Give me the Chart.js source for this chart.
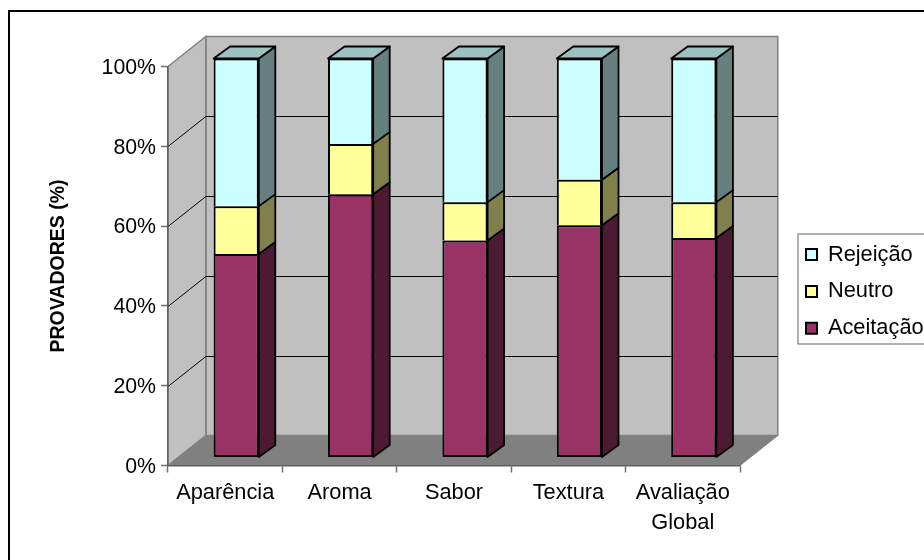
<!DOCTYPE html>
<html>
<head>
<meta charset="utf-8">
<script src="https://cdn.jsdelivr.net/npm/chart.js@4"></script>
<style>
  html, body { margin: 0; padding: 0; background: #fff; }
  canvas { display: block; }
</style>
</head>
<body>
<canvas id="chart" width="924" height="560"></canvas>
<script>
const categories = ['Aparência', 'Aroma', 'Sabor', 'Textura', ['Avaliação', 'Global']];
const aceitacao = [51, 66, 54.4, 58.2, 55];
const neutro = [12, 12.6, 9.6, 11.4, 9];
const rejeicao = [37, 21.4, 36, 30.4, 36];
const yTicks = [0, 20, 40, 60, 80, 100];

// depth of the fake 3d box and of the bars inside it
const wall = { dx: 37.8, dy: -30 };
const barShift = { dx: 11, dy: -8 };
const barDepth = { dx: 16.5, dy: -12 };
const faceColors = [
  { side: '#4d1a33', top: '#732650' },
  { side: '#80804d', top: '#bfbf73' },
  { side: '#668080', top: '#9cc2c0' }
];

function poly(ctx, pts, fill, stroke, lw) {
  ctx.beginPath();
  pts.forEach((p, i) => i ? ctx.lineTo(p[0], p[1]) : ctx.moveTo(p[0], p[1]));
  ctx.closePath();
  if (fill) { ctx.fillStyle = fill; ctx.fill(); }
  if (stroke) { ctx.strokeStyle = stroke; ctx.lineWidth = lw; ctx.stroke(); }
}

const box3d = {
  id: 'box3d',
  afterLayout(chart) {
    const lg = chart.legend;
    lg.left = 791;
    lg.right = 930;
    lg.top = 228.7;
    lg.bottom = 560;
  },
  beforeDraw(chart) {
    const ctx = chart.ctx;
    const { left, right, top, bottom } = chart.chartArea;
    const y = chart.scales.y;
    const dx = wall.dx, dy = wall.dy;
    ctx.save();
    // outer frame, only left and top are inside the picture
    ctx.strokeStyle = '#000';
    ctx.lineWidth = 2;
    ctx.strokeRect(9, 11, 930, 570);
    // walls and floor
    poly(ctx, [[left + dx, top + dy], [right + dx, top + dy], [right + dx, bottom + dy], [left + dx, bottom + dy]], '#c0c0c0', '#808080', 1.5);
    poly(ctx, [[left, top], [left + dx, top + dy], [left + dx, bottom + dy], [left, bottom]], '#c0c0c0', '#808080', 1.5);
    poly(ctx, [[left, bottom], [right, bottom], [right + dx, bottom + dy], [left + dx, bottom + dy]], '#808080', '#808080', 1);
    // gridlines on back and side wall
    ctx.strokeStyle = '#000';
    ctx.lineWidth = 1;
    yTicks.slice(1, -1).forEach(v => {
      const py = Math.round(y.getPixelForValue(v)) + 0.5;
      ctx.beginPath();
      ctx.moveTo(left, py);
      ctx.lineTo(left + dx, py + dy);
      ctx.lineTo(right + dx, py + dy);
      ctx.stroke();
    });
    // legend box
    ctx.fillStyle = '#fff';
    ctx.strokeStyle = '#666';
    ctx.lineWidth = 1;
    ctx.fillRect(798, 234, 140, 110);
    ctx.strokeRect(798, 234, 140, 110);
    ctx.restore();
  },
  beforeDatasetsDraw(chart) {
    chart.ctx.save();
    chart.ctx.translate(barShift.dx, barShift.dy);
  },
  afterDatasetsDraw(chart) {
    const ctx = chart.ctx;
    const dx = barDepth.dx, dy = barDepth.dy;
    const last = chart.data.datasets.length - 1;
    ctx.lineJoin = 'round';
    chart.data.datasets.forEach((ds, i) => {
      chart.getDatasetMeta(i).data.forEach(bar => {
        const { x, y, base, width } = bar.getProps(['x', 'y', 'base', 'width'], true);
        const l = x - width / 2, r = x + width / 2;
        poly(ctx, [[r, y], [r + dx, y + dy], [r + dx, base + dy], [r, base]], faceColors[i].side, '#000', 1.8);
        if (i === last) {
          poly(ctx, [[l, y], [l + dx, y + dy], [r + dx, y + dy], [r, y]], faceColors[i].top, '#000', 1.8);
        }
      });
    });
    ctx.restore();
  }
};

const fontFamily = '"Liberation Sans", Arial, sans-serif';
const font = { family: fontFamily, size: 21.8 };

new Chart(document.getElementById('chart'), {
  type: 'bar',
  plugins: [box3d],
  data: {
    labels: categories,
    datasets: [
      { label: 'Aceitação', data: aceitacao, backgroundColor: '#993366', borderSkipped: false },
      { label: 'Neutro', data: neutro, backgroundColor: '#ffff99', borderSkipped: 'bottom' },
      { label: 'Rejeição', data: rejeicao, backgroundColor: '#ccffff', borderSkipped: 'bottom' }
    ]
  },
  options: {
    responsive: false,
    animation: false,
    devicePixelRatio: 1,
    layout: { autoPadding: false, padding: { left: 47, top: 66.5, right: 184, bottom: 0 } },
    datasets: {
      bar: {
        categoryPercentage: 1,
        barPercentage: 0.395,
        borderColor: '#000',
        borderWidth: 2,
        inflateAmount: 0,
        clip: false
      }
    },
    scales: {
      x: {
        stacked: true,
        afterFit: s => { s.height = 94.5; },
        border: { color: '#606060', width: 1.5 },
        grid: { drawOnChartArea: false, tickLength: 7, tickColor: '#707070', tickWidth: 1.5 },
        ticks: {
          color: '#000',
          padding: 5,
          maxRotation: 0,
          autoSkip: false,
          font: { ...font, lineHeight: 1.38 }
        }
      },
      y: {
        stacked: true,
        min: 0,
        max: 100,
        afterFit: s => { s.width = 121; },
        afterBuildTicks: s => { s.ticks = yTicks.map(v => ({ value: v })); },
        border: { color: '#606060', width: 1.5 },
        grid: { drawOnChartArea: false, tickLength: 7, tickColor: '#707070', tickWidth: 1.5 },
        ticks: { color: '#000', padding: 5, labelOffset: 1.5, font: { family: fontFamily, size: 21.3 }, callback: v => v + '%' },
        title: {
          display: true,
          text: 'PROVADORES (%)',
          color: '#000',
          padding: { top: 0, bottom: 0 },
          font: { family: fontFamily, size: 19.5, weight: 'bold' }
        }
      }
    },
    plugins: {
      tooltip: { enabled: false },
      legend: {
        position: 'chartArea',
        align: 'start',
        reverse: true,
        labels: { boxWidth: 11, boxHeight: 11, padding: 15, color: '#000', font }
      }
    }
  }
});
</script>
</body>
</html>
